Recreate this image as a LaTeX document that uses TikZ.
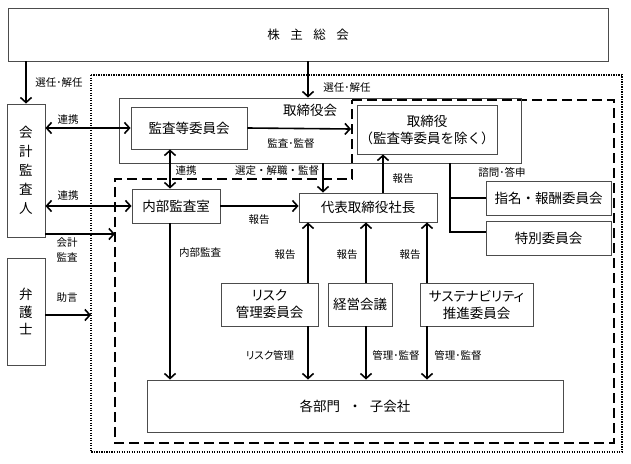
\documentclass[tikz,border=0pt]{standalone}
\usepackage{fontspec}
\setmainfont{Noto Sans CJK JP}
\newfontfamily\jpprop[RawFeature=+palt]{Noto Sans CJK JP}
\usetikzlibrary{arrows.meta}
\begin{document}
\begin{tikzpicture}[x=1pt,y=-1pt,
  box/.style={draw=black!70, line width=0.9pt, inner sep=0pt, align=center,
    font=\fontsize{13.5}{17}\selectfont},
  big/.style={font=\fontsize{13.5}{17}\selectfont, inner sep=0pt},
  lbl/.style={font=\fontsize{10.5}{13}\selectfont, inner sep=0pt, align=center},
  arr/.style={line width=1.6pt, -{Straight Barb[length=5pt,width=11pt]}},
  darr/.style={line width=1.6pt, {Straight Barb[length=5pt,width=11pt]}-{Straight Barb[length=5pt,width=11pt]}},
  ln/.style={line width=1.4pt},
  dotframe/.style={line width=1.4pt, dash pattern=on 1.4pt off 1.1pt},
  dashframe/.style={line width=1.6pt, dash pattern=on 10pt off 5pt}]
\useasboundingbox (0,0) rectangle (631,463);
% frames
\draw[dotframe] (91,75) rectangle (622,452);
\draw[dashframe] (352,100) -- (614,100) -- (614,443) -- (115,443) -- (115,179) -- (352,179) -- cycle;
% boxes
\node[box, minimum width=600pt, minimum height=53pt] (kabu) at (308,34.5)
  {\fontsize{12.5}{15}\selectfont 株\hspace{10.5pt}主\hspace{10.5pt}総\hspace{10.5pt}会};
\node[box, minimum width=38pt, minimum height=133pt, font=\fontsize{13.5}{19}\selectfont] (kaikei) at (26,170.5) {会\\計\\監\\査\\人};
\node[box, minimum width=38pt, minimum height=107pt, font=\fontsize{13.5}{17.5}\selectfont] (bengo) at (26,311.5) {弁\\護\\士};
\node[box, minimum width=402pt, minimum height=65pt] (torikai) at (320,130.5) {};
\node[big] (torikailbl) at (310,110) {取締役会};
\node[box, minimum width=116pt, minimum height=42pt] (kansa) at (189,128) {監査等委員会};
\node[box, minimum width=140pt, minimum height=49pt] (tori) at (427,129.5) {取締役\\（監査等委員を除く）};
\node[box, minimum width=88pt, minimum height=34pt] (naibu) at (176,206) {内部監査室};
\node[box, minimum width=138pt, minimum height=29pt] (daihyo) at (368,207.5) {代表取締役社長};
\node[box, minimum width=125pt, minimum height=34pt] (shimei) at (548.5,198) {指名・報酬委員会};
\node[box, minimum width=125pt, minimum height=34pt] (tokubetsu) at (548.5,238) {特別委員会};
\node[box, minimum width=97pt, minimum height=43pt] (risk) at (269.5,304.5) {{\jpprop リスク}\\管理委員会};
\node[box, minimum width=64pt, minimum height=43pt] (keiei) at (360,304.5) {経営会議};
\node[box, minimum width=113pt, minimum height=43pt] (sust) at (476.5,304.5) {{\jpprop サステナビリティ}\\推進委員会};
\node[box, minimum width=416pt, minimum height=52pt] (kakubu) at (355,406) {各部門\hspace{0.6em}・\hspace{0.6em}子会社};
% helper coordinates
\coordinate (xtop) at (308,0);
\coordinate (xren) at (170,0);
\coordinate (xsen) at (323,0);
\coordinate (xrep) at (383,0);
\coordinate (xbr) at (450,0);
\coordinate (xrisk) at (308,0);
\coordinate (xkei) at (366,0);
\coordinate (xsus) at (427,0);
\coordinate (dashL) at (351,129);
\coordinate (dashB) at (115,234);
\coordinate (dotL) at (91,315);
\coordinate (ytoku) at (0,232);
% connectors
\draw[arr] (kaikei.north |- kabu.south) -- (kaikei.north);
\draw[arr] (kabu.south -| xtop) -- (torikai.north -| xtop);
\draw[darr] (kaikei.east |- kansa) -- (kansa.west);
\draw[arr] (kansa.east) -- (dashL);
\draw[darr] (kansa.south -| xren) -- (naibu.north -| xren);
\draw[arr] (torikai.south -| xsen) -- (daihyo.north -| xsen);
\draw[arr] (daihyo.north -| xrep) -- (tori.south -| xrep);
\draw[ln] (torikai.south -| xbr) -- (xbr |- ytoku) -- (tokubetsu.west |- ytoku);
\draw[ln] (xbr |- shimei.west) -- (shimei.west);
\draw[darr] (kaikei.east |- naibu) -- (naibu.west);
\draw[arr] (naibu.east) -- (daihyo.west |- naibu.east);
\draw[arr] (kaikei.east |- dashB) -- (dashB);
\draw[arr] (bengo.east |- dotL) -- (dotL);
\draw[arr] (naibu.south -| xren) -- (kakubu.north -| xren);
\draw[arr] (risk.north -| xrisk) -- (daihyo.south -| xrisk);
\draw[arr] (risk.south -| xrisk) -- (kakubu.north -| xrisk);
\draw[arr] (keiei.north -| xkei) -- (daihyo.south -| xkei);
\draw[arr] (keiei.south -| xkei) -- (kakubu.north -| xkei);
\draw[arr] (sust.north -| xsus) -- (daihyo.south -| xsus);
\draw[arr] (sust.south -| xsus) -- (kakubu.north -| xsus);
% labels
\node[lbl] (l1) at (59,83) {選任･解任};
\node[lbl] (l2) at (347,88) {選任･解任};
\node[lbl] (l3) at (68,120) {連携};
\node[lbl] (l4) at (291,144) {監査･監督};
\node[lbl] (l5) at (186,171) {連携};
\node[lbl] (l6) at (277,171) {選定・解職・監督};
\node[lbl] (l7) at (403,179) {報告};
\node[lbl] (l8) at (502,172) {諮問･答申};
\node[lbl] (l9) at (68,196) {連携};
\node[lbl] (l10) at (259,220) {報告};
\node[lbl, font=\fontsize{10.5}{15}\selectfont] (l11) at (67,250) {会計\\監査};
\node[lbl] (l12) at (67,298) {助言};
\node[lbl] (l13) at (200,253) {内部監査};
\node[lbl] (l14) at (285,255) {報告};
\node[lbl] (l15) at (347,255) {報告};
\node[lbl] (l16) at (410,255) {報告};
\node[lbl] (l17) at (270,355) {{\jpprop リスク}管理};
\node[lbl] (l18) at (396,355) {管理･監督};
\node[lbl] (l19) at (458,355) {管理･監督};
\end{tikzpicture}
\end{document}
